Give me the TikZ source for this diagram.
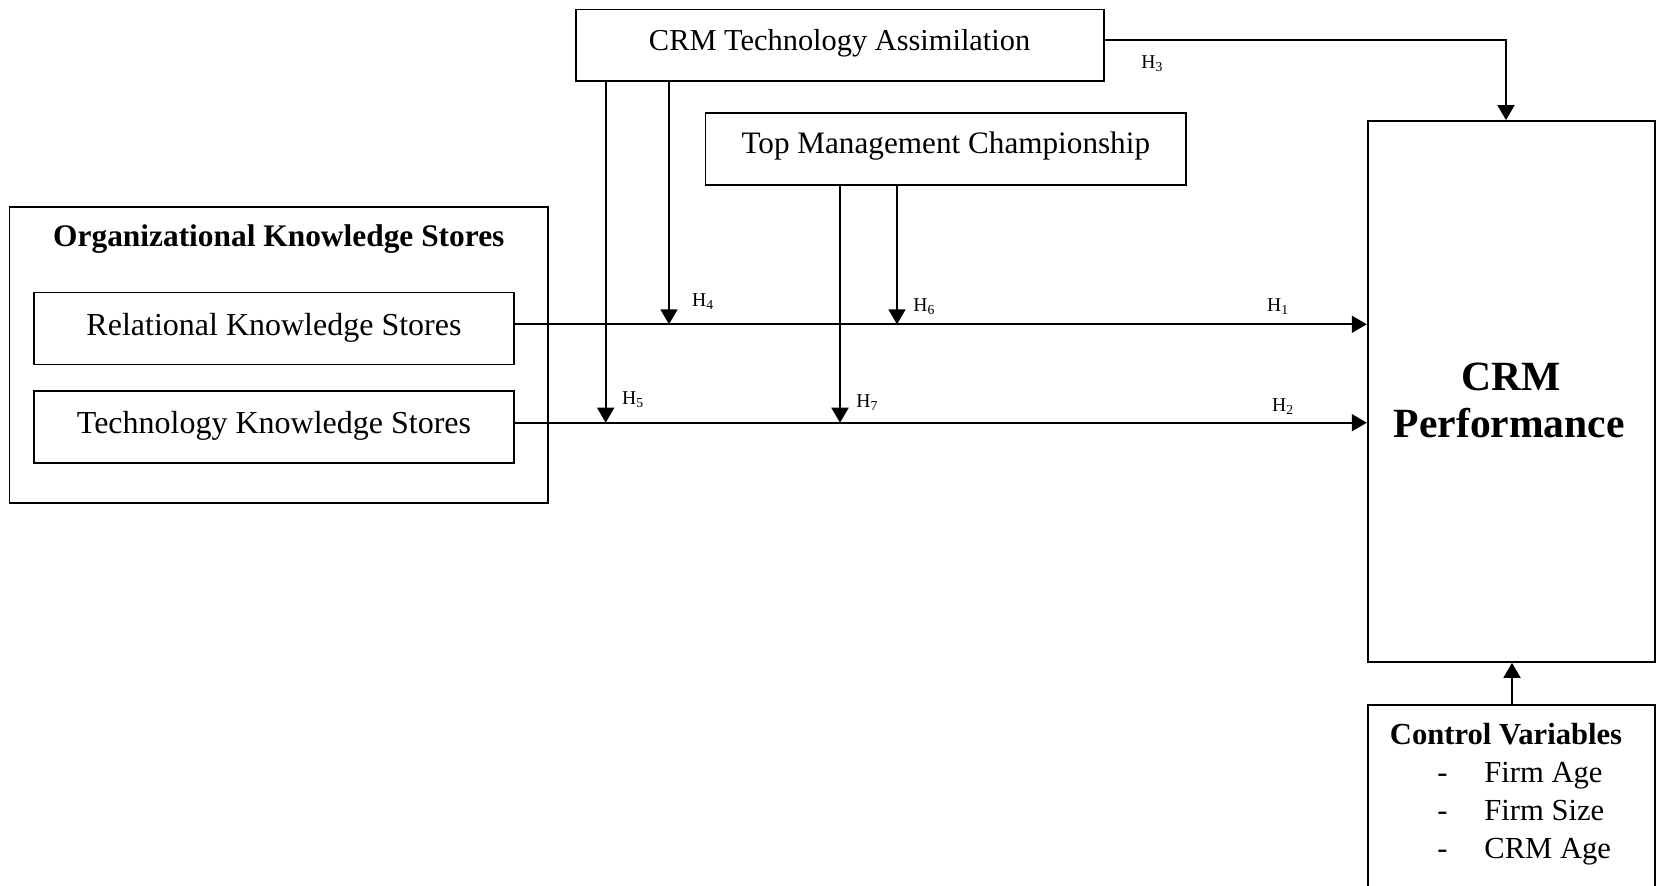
\documentclass[tikz,border=0pt]{standalone}
\usepackage{fontspec}
\setmainfont{Liberation Serif}
\usetikzlibrary{arrows.meta}
\begin{document}
\begin{tikzpicture}[x=0.5pt,y=-0.5pt,
  box/.style={draw, line width=0.9pt, inner sep=0pt},
  txt/.style={inner sep=0pt, anchor=base},
  arr/.style={line width=0.95pt, -{Triangle[width=8.5pt,length=7.5pt]}},
  hlab/.style={inner sep=0pt, anchor=base west, font=\fontsize{9.8pt}{11pt}\selectfont}]
\useasboundingbox (0,0) rectangle (1656,886);
\clip (0,0) rectangle (1656,886);
% boxes
\node[box, minimum width=264pt, minimum height=35.9pt] (cta) at (839.6,45.4) {};
\node[box, minimum width=240.25pt, minimum height=35.9pt] (tmc) at (945.8,149) {};
\node[box, minimum width=269.25pt, minimum height=147.85pt] (org) at (278.8,354.9) {};
\node[box, minimum width=240.25pt, minimum height=36pt] (rks) at (274,328.5) {};
\node[box, minimum width=240.25pt, minimum height=36pt] (tks) at (274,426.7) {};
\node[box, minimum width=143.65pt, minimum height=270.5pt] (perf) at (1511.35,391.5) {};
\node[box, minimum width=143.65pt, minimum height=122.5pt] (cv) at (1511.35,827.5) {};
% texts
\node[txt, font=\fontsize{15.2pt}{18pt}\selectfont] (ctat) at (839.6,50.5) {CRM Technology Assimilation};
\node[txt, font=\fontsize{15.6pt}{18pt}\selectfont] (tmct) at (945.8,154) {Top Management Championship};
\node[txt, font=\fontsize{15.7pt}{18pt}\selectfont\bfseries] (orgt) at (278.8,247) {Organizational Knowledge Stores};
\node[txt, font=\fontsize{16pt}{18pt}\selectfont] (rkst) at (274,335.5) {Relational Knowledge Stores};
\node[txt, font=\fontsize{16pt}{18pt}\selectfont] (tkst) at (274,434) {Technology Knowledge Stores};
\node[txt, font=\fontsize{20.8pt}{24pt}\selectfont\bfseries] (perft1) at (1511.5,390.5) {CRM};
\node[txt, font=\fontsize{20.8pt}{24pt}\selectfont\bfseries] (perft2) at (1509.3,438) {Performance};
\node[txt, font=\fontsize{15.3pt}{18pt}\selectfont\bfseries] (cvt) at (1506,744.5) {Control Variables};
\node[txt, anchor=base west, font=\fontsize{15.3pt}{18pt}\selectfont] (d1) at (1437,783) {-};
\node[txt, anchor=base west, font=\fontsize{15.3pt}{18pt}\selectfont] (d2) at (1437,820.3) {-};
\node[txt, anchor=base west, font=\fontsize{15.3pt}{18pt}\selectfont] (d3) at (1437,859) {-};
\node[txt, anchor=base west, font=\fontsize{15.3pt}{18pt}\selectfont] (i1) at (1484,783) {Firm Age};
\node[txt, anchor=base west, font=\fontsize{15.3pt}{18pt}\selectfont] (i2) at (1484,820.3) {Firm Size};
\node[txt, anchor=base west, font=\fontsize{15.3pt}{18pt}\selectfont] (i3) at (1484,859) {CRM Age};
% guide coordinates
\coordinate (l1) at (0,324.3);
\coordinate (l2) at (0,422.7);
\coordinate (l3) at (0,40);
\coordinate (x4) at (669,0);
\coordinate (x5) at (605.7,0);
\coordinate (x6) at (897,0);
\coordinate (x7) at (840,0);
\coordinate (x3) at (1506,0);
\coordinate (xc) at (1512,0);
% main paths
\draw[arr] (rks.east |- l1) -- (perf.west |- l1);
\draw[arr] (tks.east |- l2) -- (perf.west |- l2);
\draw[arr] (cta.east |- l3) -| (x3 |- perf.north);
\draw[arr] (cv.north -| xc) -- (perf.south -| xc);
% moderators
\draw[arr] (cta.south -| x4) -- (x4 |- l1);
\draw[arr] (cta.south -| x5) -- (x5 |- l2);
\draw[arr] (tmc.south -| x6) -- (x6 |- l1);
\draw[arr] (tmc.south -| x7) -- (x7 |- l2);
% labels
\node[hlab] (h1) at (1266.7,311.7) {H\textsubscript{1}};
\node[hlab] (h2) at (1271.7,412) {H\textsubscript{2}};
\node[hlab] (h3) at (1141,69) {H\textsubscript{3}};
\node[hlab] (h4) at (691.7,307) {H\textsubscript{4}};
\node[hlab] (h5) at (621.7,405) {H\textsubscript{5}};
\node[hlab] (h6) at (913,311.7) {H\textsubscript{6}};
\node[hlab] (h7) at (856,408) {H\textsubscript{7}};
\end{tikzpicture}
\end{document}
